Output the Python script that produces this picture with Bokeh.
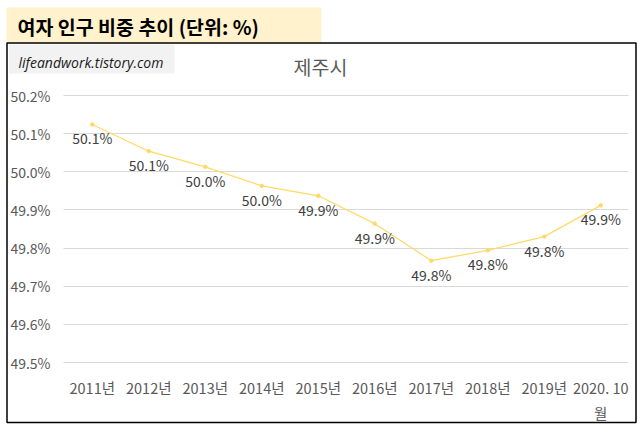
from bokeh.plotting import figure
from bokeh.models import Range1d, Label, BoxAnnotation, PrintfTickFormatter, FixedTicker, ColumnDataSource
from bokeh.core.properties import value
from bokeh.embed import file_html
from bokeh.resources import INLINE

# ---- data ----
categories = ["2011년", "2012년", "2013년", "2014년", "2015년", "2016년",
              "2017년", "2018년", "2019년", "2020. 10\n월"]
female_share = [50.124, 50.054, 50.013, 49.963, 49.937, 49.864,
                49.767, 49.794, 49.830, 49.912]
y_ticks = [49.5, 49.6, 49.7, 49.8, 49.9, 50.0, 50.1, 50.2]
main_title = "여자 인구 비중 추이 (단위: %)"
chart_title = "제주시"
watermark = "lifeandwork.tistory.com"

KR = "Noto Sans CJK KR"
W, H = 640, 428          # figure size
PX, PY = 0, 0            # page offset of figure

# page-pixel geometry of the plot area (layout only)
cat_w = 56.5
x0_page = 91.75           # centre of first category
y_top_page, y_bot_page = 95.0, 362.0
px_per_unit = (y_bot_page - y_top_page) / (y_ticks[-1] - y_ticks[0])

def xd(X):  # page x -> data x
    return (X - x0_page) / cat_w

def yd(Y):  # page y -> data y
    return y_ticks[-1] - (Y - y_top_page) / px_per_unit

def sx(X):  # page x -> frame screen x
    return X - PX

def sy(Y):  # page y -> frame screen y (upwards)
    return (PY + H) - Y

idx = list(range(len(categories)))
labels = ["%.1f%%" % v for v in female_share]
src = ColumnDataSource(dict(x=idx, val=female_share, lab=labels))

p = figure(width=W, height=H, output_backend="svg", toolbar_location=None,
           x_range=Range1d(xd(PX), xd(PX + W)),
           y_range=Range1d(yd(PY + H), yd(PY)),
           min_border=0, min_border_left=0, min_border_right=0,
           min_border_top=0, min_border_bottom=0)
try:
    p.title = None
except Exception:
    p.title.visible = False
p.outline_line_color = None
p.background_fill_color = "white"
p.border_fill_color = "white"

def screen_box(l, r, t, b, **kw):
    return BoxAnnotation(left=sx(l), right=sx(r), top=sy(t), bottom=sy(b),
                         left_units="screen", right_units="screen",
                         top_units="screen", bottom_units="screen", **kw)

# decorations (underlay)
p.add_layout(screen_box(6, 321, 7, 42, fill_color="#FFF2CC", fill_alpha=1,
                        line_color=None, level="underlay"))
p.add_layout(screen_box(8.5, 174, 44, 73, fill_color="#F2F2F2", fill_alpha=1,
                        line_color=None, level="underlay"))

# axes
yt = FixedTicker(ticks=y_ticks)
xt = FixedTicker(ticks=idx)
p.yaxis.ticker = yt
p.ygrid.ticker = yt
p.xaxis.ticker = xt
p.yaxis.formatter = PrintfTickFormatter(format="%.1f%%")
p.xaxis.major_label_overrides = {i: c for i, c in zip(idx, categories)}
p.yaxis.fixed_location = xd(63)
p.xaxis.fixed_location = y_ticks[0]
for ax in (p.xaxis, p.yaxis):
    ax.axis_line_color = None
    ax.major_tick_line_color = None
    ax.minor_tick_line_color = None
    ax.major_tick_out = 0
    ax.major_tick_in = 0
    ax.minor_tick_out = 0
    ax.minor_tick_in = 0
    ax.major_label_text_font = KR
    ax.major_label_text_color = "#595959"
p.yaxis.major_label_text_font_size = "14px"
p.xaxis.major_label_text_font_size = "14.5px"
p.yaxis.major_label_standoff = 13
p.xaxis.major_label_standoff = 14

p.xgrid.grid_line_color = None
p.ygrid.grid_line_color = "#D9D9D9"
p.ygrid.grid_line_width = 1
p.ygrid.cross_bounds = (xd(63), xd(628))

# series
p.line("x", "val", source=src, line_color="#FFD966", line_width=1.2)
p.scatter("x", "val", source=src, size=3.5, fill_color="#FFD966", line_color="#FFD966")
p.text("x", "val", text="lab", source=src, text_align="center", text_baseline="middle",
       y_offset=14, text_font=value(KR), text_font_size="14px", text_color="#404040")

# chart border
p.add_layout(screen_box(6.5, 635.5, 42.5, 422, fill_alpha=0, line_color="black",
                        line_alpha=1, line_width=1.5))

# texts
p.add_layout(Label(x=sx(17), y=sy(26), x_units="screen", y_units="screen", text=main_title,
                   text_font=KR, text_font_size="19.5px", text_font_style="bold",
                   text_color="black", text_baseline="middle", text_align="left"))
p.add_layout(Label(x=sx(18), y=sy(61.5), x_units="screen", y_units="screen", text=watermark,
                   text_font="Open Sans", text_font_size="14px", text_font_style="italic",
                   text_color="#1A1A1A", text_baseline="middle", text_align="left"))
p.add_layout(Label(x=sx(320), y=sy(66), x_units="screen", y_units="screen", text=chart_title,
                   text_font=KR, text_font_size="19.5px",
                   text_color="#595959", text_baseline="middle", text_align="center"))

open("out.html", "w").write(file_html(p, INLINE))
